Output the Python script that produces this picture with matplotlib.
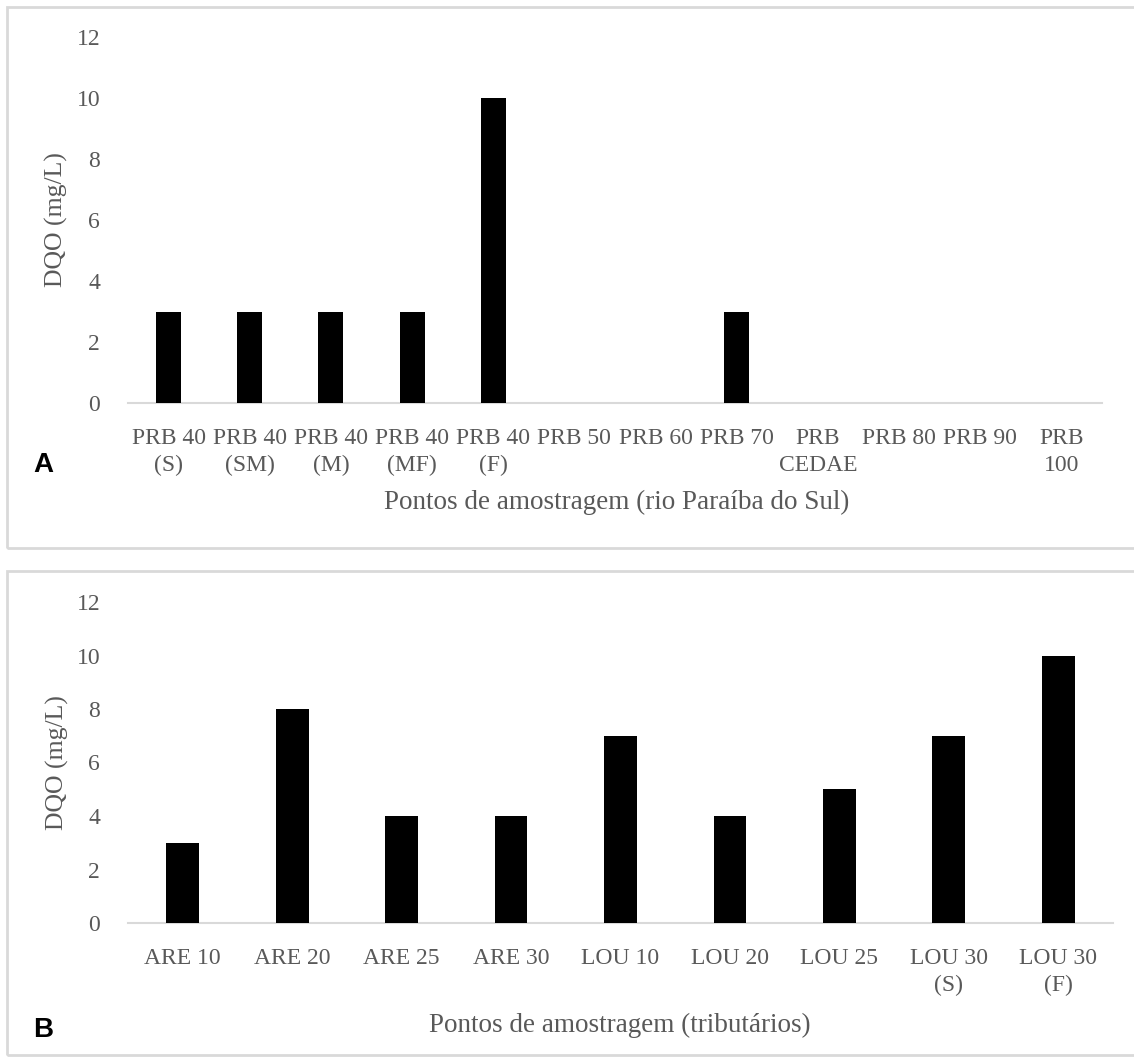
import matplotlib
matplotlib.use('Agg')
import matplotlib.pyplot as plt
from matplotlib.patches import Rectangle

# data
labels_a = ['PRB 40\n(S)', 'PRB 40\n(SM)', 'PRB 40\n(M)', 'PRB 40\n(MF)', 'PRB 40\n(F)',
            'PRB 50', 'PRB 60', 'PRB 70', 'PRB\nCEDAE', 'PRB 80', 'PRB 90', 'PRB\n100']
dqo_a = [3, 3, 3, 3, 10, 0, 0, 3, 0, 0, 0, 0]

labels_b = ['ARE 10', 'ARE 20', 'ARE 25', 'ARE 30', 'LOU 10', 'LOU 20', 'LOU 25',
            'LOU 30\n(S)', 'LOU 30\n(F)']
dqo_b = [3, 8, 4, 4, 7, 4, 5, 7, 10]

yticks = [0, 2, 4, 6, 8, 10, 12]

W, H = 1134, 1061
plt.rcParams['font.family'] = ['Liberation Serif', 'DejaVu Serif']
txtcol = '#595959'
fs = 17

fig = plt.figure(figsize=(W/100, H/100), dpi=100)

def px_axes(l, r, t, b):
    return fig.add_axes([l/W, (H-b)/H, (r-l)/W, (b-t)/H])

def panel(ax, labels, vals, width):
    x = range(len(labels))
    ax.bar(x, vals, width=width, color='black', zorder=3)
    ax.set_xlim(-0.5, len(labels)-0.5)
    ax.set_ylim(0, 12)
    ax.set_yticks(yticks)
    ax.set_xticks(list(x))
    ax.set_xticklabels(labels, multialignment='center', linespacing=1.35)
    ax.tick_params(axis='both', length=0, labelsize=fs, labelcolor=txtcol)
    ax.tick_params(axis='x', pad=18)
    ax.tick_params(axis='y', pad=20)
    for s in ['top', 'right', 'left']:
        ax.spines[s].set_visible(False)
    ax.spines['bottom'].set_color('#d9d9d9')
    ax.spines['bottom'].set_linewidth(1.5)
    ax.set_facecolor('none')

# panel frames
for top, bot in [(7, 548), (571, 1055)]:
    fig.patches.append(Rectangle((7/W, (H-bot)/H), 1.2, (bot-top)/H,
                                 transform=fig.transFigure, fill=False,
                                 edgecolor='#d9d9d9', linewidth=2))

axa = px_axes(128, 1102, 37, 403)
panel(axa, labels_a, dqo_a, 0.31)
axb = px_axes(128, 1113, 602, 923)
panel(axb, labels_b, dqo_b, 0.30)

fig.text(617/W, 1-502/H, 'Pontos de amostragem (rio Paraíba do Sul)', ha='center', va='center',
         fontsize=19.5, color=txtcol)
fig.text(620/W, 1-1025/H, 'Pontos de amostragem (tributários)', ha='center', va='center',
         fontsize=19.5, color=txtcol)
fig.text(56/W, 1-220/H, 'DQO (mg/L)', rotation=90, ha='center', va='center',
         fontsize=18.5, color=txtcol)
fig.text(57/W, 1-763/H, 'DQO (mg/L)', rotation=90, ha='center', va='center',
         fontsize=18.5, color=txtcol)

fig.text(43/W, 1-465/H, 'A', family='Liberation Sans', fontweight='bold', fontsize=20,
         ha='center', va='center', color='black')
fig.text(43/W, 1-1030/H, 'B', family='Liberation Sans', fontweight='bold', fontsize=20,
         ha='center', va='center', color='black')

fig.savefig('out.png', dpi=100)
